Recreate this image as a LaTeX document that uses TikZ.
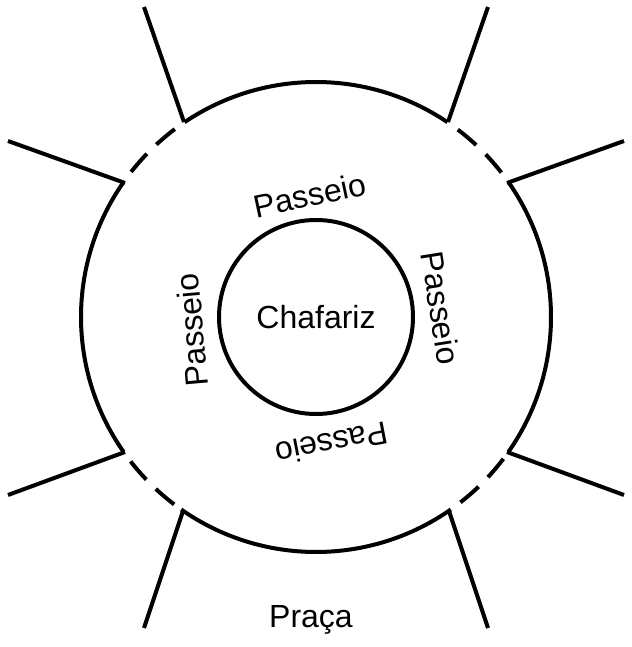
\documentclass[tikz,border=0pt]{standalone}
\usepackage{fontspec}
\setmainfont{Liberation Sans}
\usetikzlibrary{positioning, calc}
\tikzset{
    wall/.style={line width=3pt, black},
    gate/.style={line width=3pt, black, dash pattern=on 0pt off 9pt on 18pt off 10pt on 18pt off 20pt},
    label/.style={font=\fontsize{24}{26}\selectfont, inner sep=0pt}
}
\begin{document}
\begin{tikzpicture}[x=0.75pt, y=0.75pt]
    \useasboundingbox (0,0) rectangle (632,647);
    \coordinate (c) at (316,330);

    % Fountain
    \node[wall, draw, circle, minimum size=194pt*0.75, inner sep=0pt] (fountain) at (c) {};
    \node[label] (chafariz) at (c) {Chafariz};

    % Square border (solid arcs)
    \draw[wall] ($(c)+(56:235)$) arc[start angle=56, end angle=124, radius=235];
    \draw[wall] ($(c)+(145:235)$) arc[start angle=145, end angle=215, radius=235];
    \draw[wall] ($(c)+(235:235)$) arc[start angle=235, end angle=305, radius=235];
    \draw[wall] ($(c)+(325:235)$) arc[start angle=325, end angle=395, radius=235];

    % Gates (dashed arcs)
    \foreach \a in {35,124,215,305}
        \draw[gate] ($(c)+(\a:235)$) arc[start angle=\a, end angle=\a+21, radius=235];

    % Streets
    \coordinate (tl1) at (184,525); \coordinate (tl1e) at (144,640);
    \coordinate (tl2) at (125,464); \coordinate (tl2e) at (8,506);
    \coordinate (bl1) at (125,195); \coordinate (bl1e) at (8,152);
    \coordinate (bl2) at (183,136); \coordinate (bl2e) at (144,19);
    \coordinate (tr1) at (448,525); \coordinate (tr1e) at (488,640);
    \coordinate (tr2) at (507,464); \coordinate (tr2e) at (624,506);
    \coordinate (br1) at (507,195); \coordinate (br1e) at (624,152);
    \coordinate (br2) at (449,136); \coordinate (br2e) at (488,19);
    \foreach \s in {tl1,tl2,bl1,bl2,tr1,tr2,br1,br2}
        \draw[wall] (\s) -- (\s e);

    % Labels
    \node[label, rotate=12] (ptop) at (310,452) {Passeio};
    \node[label, rotate=95] (pleft) at (192,317) {Passeio};
    \node[label, rotate=-81] (pright) at (441,339) {Passeio};
    \node[label, rotate=191] (pbottom) at (332,203) {Passeio};
    \node[label] (praca) at (311,27) {Praça};
\end{tikzpicture}
\end{document}
